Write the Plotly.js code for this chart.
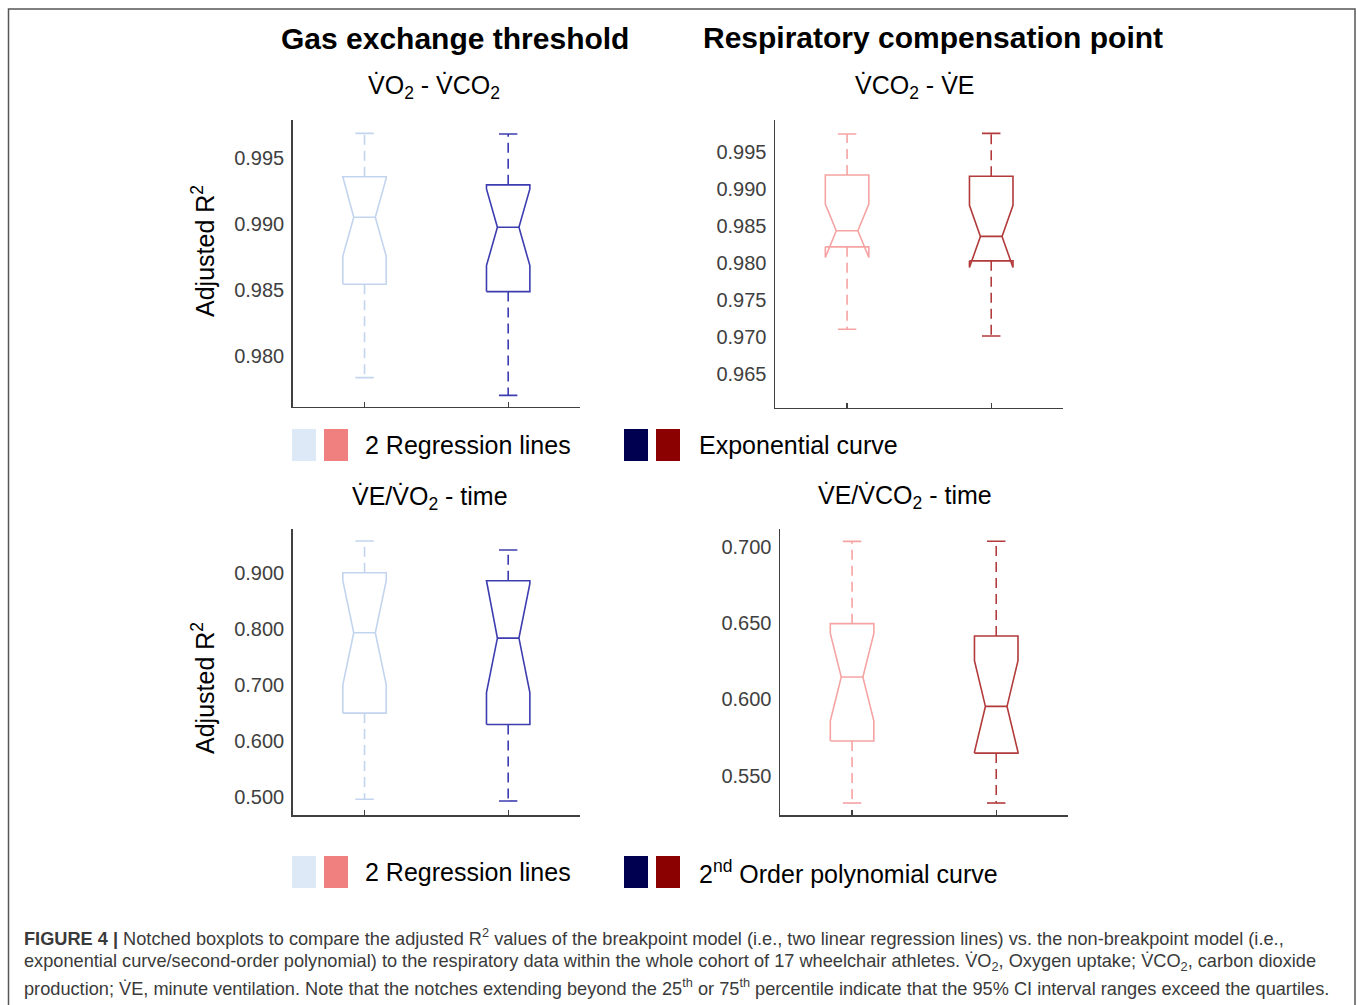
<!DOCTYPE html>
<html>
<head>
<meta charset="utf-8">
<script src="https://cdn.plot.ly/plotly-3.0.1.min.js"></script>
<style>html,body{margin:0;padding:0;background:#fff;}#chart{width:1357px;height:1005px;}</style>
</head>
<body>
<div id="chart"></div>
<script>
// ---------------- DATA ----------------
// panel order: VO2-VCO2, VCO2-VE, VE/VO2-time, VE/VCO2-time
// inner order: [2 regression lines, non-breakpoint model]
const modelPositions = [1, 2];
const panelTitles = ['V\u0307O<sub>2</sub> - V\u0307CO<sub>2</sub>', 'V\u0307CO<sub>2</sub> - V\u0307E',
                     'V\u0307E/V\u0307O<sub>2</sub> - time', 'V\u0307E/V\u0307CO<sub>2</sub> - time'];
const whiskerLow  = [[0.97836, 0.97702], [0.97104, 0.97013], [0.4959, 0.4929], [0.5321, 0.5321]];
const quartile1   = [[0.98543, 0.98487], [0.98216, 0.98027], [0.6496, 0.6292], [0.5727, 0.5648]];
const medians     = [[0.99050, 0.98974], [0.98433, 0.98357], [0.7929, 0.7834], [0.6146, 0.5954]];
const quartile3   = [[0.99356, 0.99295], [0.99186, 0.99168], [0.9000, 0.8857], [0.6496, 0.6415]];
const whiskerHigh = [[0.99685, 0.99680], [0.99739, 0.99748], [0.9565, 0.9405], [0.7035, 0.7036]];
const notchHalf   = [[0.00295, 0.00290], [0.00360, 0.00420], [0.0929, 0.0970], [0.0286, 0.0300]];
const yTicks = [[0.980, 0.985, 0.990, 0.995],
                [0.965, 0.970, 0.975, 0.980, 0.985, 0.990, 0.995],
                [0.500, 0.600, 0.700, 0.800, 0.900],
                [0.550, 0.600, 0.650, 0.700]];
const yRanges = [[0.97616, 0.99786], [0.96045, 0.99928], [0.4679, 0.9774], [0.52425, 0.7114]];
const legendRow1 = ['2 Regression lines', 'Exponential curve'];
const legendRow2 = ['2 Regression lines', '2<sup>nd</sup> Order polynomial curve'];

// ---------------- STYLE / LAYOUT ----------------
const W = 1357, H = 1005;
const fx = px => px / W, fy = py => 1 - py / H;
const panelBoxes = [ // [left, top, right, bottom] in px
  [292.7, 120, 580, 406.7],
  [775, 120, 1063.3, 407.7],
  [292.7, 529.3, 580, 815],
  [780, 529.3, 1068.3, 815]
];
const boxColors = [['#c3d5ee', '#3d3db0'], ['#f6a3a3', '#b23a3a'], ['#c3d5ee', '#3d3db0'], ['#f6a3a3', '#b23a3a']];
const halfW = 0.151, innerW = 0.075, capW = 0.064;
const FONT = 'Liberation Sans, Arial, Helvetica, sans-serif';

const traces = [];
const layout = {
  width: W, height: H, margin: {l: 0, r: 0, t: 0, b: 0},
  paper_bgcolor: '#fff', plot_bgcolor: 'rgba(0,0,0,0)', showlegend: false,
  font: {family: FONT, color: '#404040'},
  annotations: [], shapes: []
};

panelBoxes.forEach((pb, p) => {
  const sfx = p === 0 ? '' : String(p + 1);
  const xa = 'x' + sfx, ya = 'y' + sfx;
  layout['xaxis' + sfx] = {
    domain: [fx(pb[0]), fx(pb[2])], anchor: ya, range: [0.5, 2.5],
    showgrid: false, zeroline: false, showline: true, linecolor: '#404040', linewidth: 1.5,
    tickvals: modelPositions, ticktext: ['', ''], ticks: 'inside', ticklen: 5, tickcolor: '#404040', tickwidth: 1.2,
    showticklabels: false, fixedrange: true
  };
  layout['yaxis' + sfx] = {
    domain: [fy(pb[3]), fy(pb[1])], anchor: xa, range: yRanges[p],
    showgrid: false, zeroline: false, showline: true, linecolor: '#404040', linewidth: 1.5,
    tickvals: yTicks[p], tickformat: '.3f', ticks: '', ticklabelstandoff: 3,
    tickfont: {size: 20, color: '#404040', family: FONT}, fixedrange: true
  };
  modelPositions.forEach((c, m) => {
    const q1 = quartile1[p][m], q3 = quartile3[p][m], md = medians[p][m];
    const n = notchHalf[p][m], lo = whiskerLow[p][m], hi = whiskerHigh[p][m];
    const col = boxColors[p][m];
    const base = {xaxis: xa, yaxis: ya, mode: 'lines', hoverinfo: 'skip', type: 'scatter'};
    // notched outline
    traces.push(Object.assign({}, base, {
      x: [c - halfW, c - halfW, c - innerW, c - halfW, c - halfW, c + halfW, c + halfW, c + innerW, c + halfW, c + halfW, c - halfW],
      y: [q1, md - n, md, md + n, q3, q3, md + n, md, md - n, q1, q1],
      line: {color: col, width: 1.6}
    }));
    // median
    traces.push(Object.assign({}, base, {x: [c - innerW, c + innerW], y: [md, md], line: {color: col, width: 1.6}}));
    // whiskers (dashed)
    traces.push(Object.assign({}, base, {x: [c, c], y: [q3, hi], line: {color: col, width: 1.6, dash: '10px,6px'}}));
    traces.push(Object.assign({}, base, {x: [c, c], y: [q1, lo], line: {color: col, width: 1.6, dash: '10px,6px'}}));
    // caps
    traces.push(Object.assign({}, base, {x: [c - capW, c + capW], y: [hi, hi], line: {color: col, width: 1.6}}));
    traces.push(Object.assign({}, base, {x: [c - capW, c + capW], y: [lo, lo], line: {color: col, width: 1.6}}));
  });
});

const ann = (text, px, py, opts) => layout.annotations.push(Object.assign({
  text: text, x: fx(px), y: fy(py), xref: 'paper', yref: 'paper', showarrow: false,
  xanchor: 'center', yanchor: 'middle', font: {family: FONT, size: 25, color: '#000'}
}, opts || {}));

// main titles
ann('<b>Gas exchange threshold</b>', 455, 39, {font: {family: FONT, size: 30, color: '#000'}});
ann('<b>Respiratory compensation point</b>', 933, 38, {font: {family: FONT, size: 30, color: '#000'}});
// panel subtitles
ann(panelTitles[0], 434, 87);
ann(panelTitles[1], 915, 87);
ann(panelTitles[2], 430, 498);
ann(panelTitles[3], 905, 497);
// y axis titles
ann('Adjusted R<sup>2</sup>', 203, 251, {textangle: -90});
ann('Adjusted R<sup>2</sup>', 203, 688, {textangle: -90});

// legends
const legendSwatches = ['#dde9f6', '#f08080', '#000050', '#8b0000'];
const swatchX = [292, 324, 624, 656];
[[429, 461, 445, legendRow1], [856, 888, 872, legendRow2]].forEach(row => {
  swatchX.forEach((sx, i) => layout.shapes.push({
    type: 'rect', xref: 'paper', yref: 'paper', x0: fx(sx), x1: fx(sx + 24), y0: fy(row[1]), y1: fy(row[0]),
    fillcolor: legendSwatches[i], line: {width: 0}
  }));
  ann(row[3][0], 363, row[2], {xanchor: 'left'});
  ann(row[3][1], 697, row[2], {xanchor: 'left'});
});

// caption
const capFont = {family: FONT, size: 18.2, color: '#3a3a3a'};
ann('<b>FIGURE 4 |</b> Notched boxplots to compare the adjusted R<sup>2</sup> values of the breakpoint model (i.e., two linear regression lines) vs. the non-breakpoint model (i.e.,', 22, 937, {xanchor: 'left', font: capFont});
ann('exponential curve/second-order polynomial) to the respiratory data within the whole cohort of 17 wheelchair athletes. V\u0307O<sub>2</sub>, Oxygen uptake; V\u0307CO<sub>2</sub>, carbon dioxide', 22, 962, {xanchor: 'left', font: capFont});
ann('production; V\u0307E, minute ventilation. Note that the notches extending beyond the 25<sup>th</sup> or 75<sup>th</sup> percentile indicate that the 95% CI interval ranges exceed the quartiles.', 22, 987, {xanchor: 'left', font: capFont});

// frame
layout.shapes.push({type: 'rect', xref: 'paper', yref: 'paper', x0: fx(8.5), x1: fx(1355), y0: fy(1012), y1: fy(9),
  line: {color: '#555', width: 1.5}, fillcolor: 'rgba(0,0,0,0)'});

Plotly.newPlot('chart', traces, layout, {staticPlot: true, displayModeBar: false});
</script>
</body>
</html>
